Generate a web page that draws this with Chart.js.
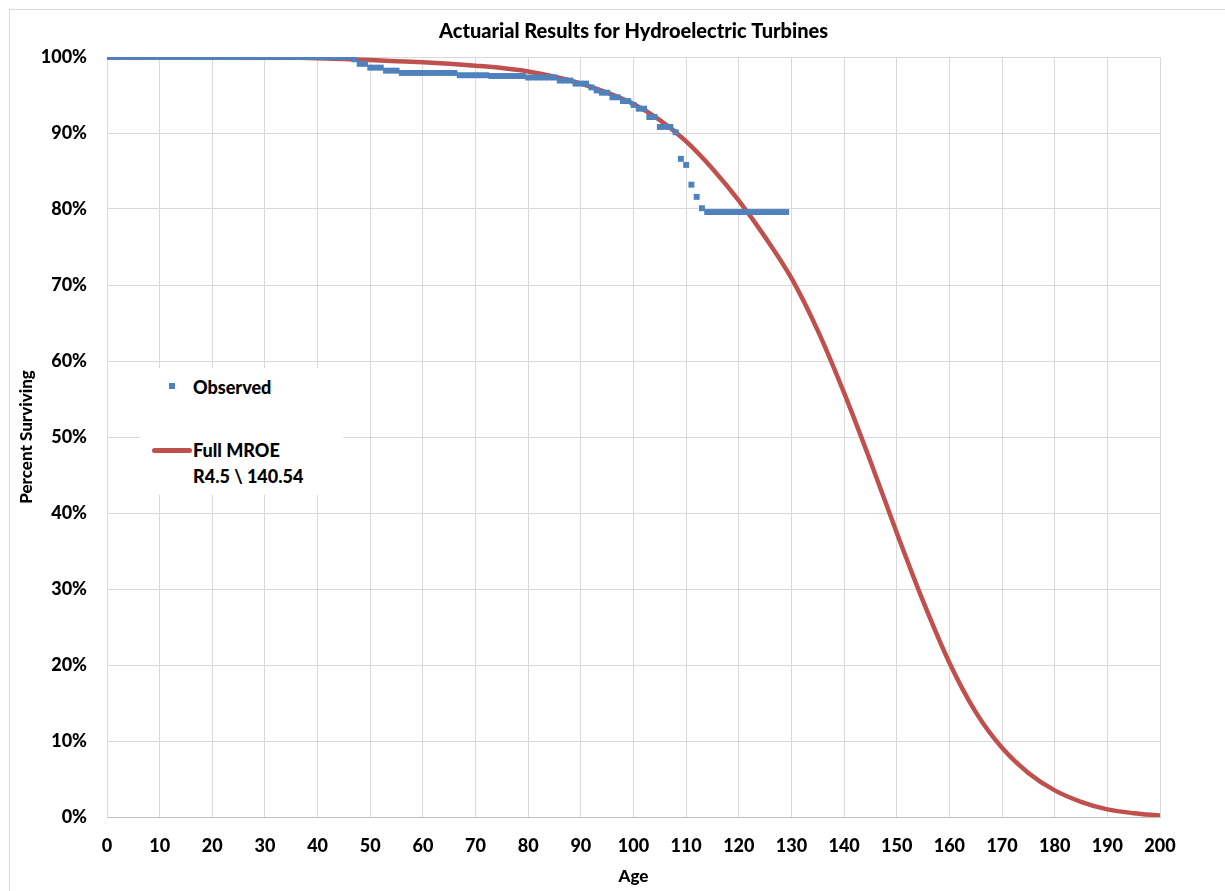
<!DOCTYPE html>
<html>
<head>
<meta charset="utf-8">
<title>Actuarial Results for Hydroelectric Turbines</title>
<script src="https://cdn.jsdelivr.net/npm/chart.js@4/dist/chart.umd.min.js"></script>
<style>
	body { margin: 0; background: #fff; overflow: hidden; }
	#wrap { position: relative; width: 1225px; height: 891px; }
	#legendBox {
		position: absolute; left: 140px; top: 368px; width: 203px; height: 127px;
		background: #fff; font-family: Lato, "Open Sans", sans-serif; font-weight: 900;
		font-size: 18px; color: #000;
	}
	#legendBox .item { position: absolute; left: 53px; line-height: 26px; white-space: nowrap; }
	#legendBox .marker { position: absolute; left: 29px; top: 15px; width: 6px; height: 6px; }
	#legendBox .swatch { position: absolute; left: 12px; top: 80px; width: 40px; height: 5px; border-radius: 3px; }
</style>
</head>
<body>
<div id="wrap">
	<canvas id="survivalChart" width="1225" height="891"></canvas>
	<div id="legendBox">
		<div class="marker" id="obsMarker"></div>
		<div class="item" style="top:6px">Observed</div>
		<div class="swatch" id="curveSwatch"></div>
		<div class="item" style="top:69px">Full MROE<br>R4.5 \ 140.54</div>
	</div>
</div>
<script>
// observed survivors, one reading per year of age
const obsAges = [
	0, 1, 2, 3, 4, 5, 6, 7, 8, 9, 10, 11, 12, 13, 14, 15, 16, 17, 18, 19,
	20, 21, 22, 23, 24, 25, 26, 27, 28, 29, 30, 31, 32, 33, 34, 35, 36, 37, 38, 39,
	40, 41, 42, 43, 44, 45, 46, 47, 48, 49, 50, 51, 52, 53, 54, 55, 56, 57, 58, 59,
	60, 61, 62, 63, 64, 65, 66, 67, 68, 69, 70, 71, 72, 73, 74, 75, 76, 77, 78, 79,
	80, 81, 82, 83, 84, 85, 86, 87, 88, 89, 90, 91, 92, 93, 94, 95, 96, 97, 98, 99,
	100, 101, 102, 103, 104, 105, 106, 107, 108, 109, 110, 111, 112, 113, 114, 115, 116, 117, 118, 119,
	120, 121, 122, 123, 124, 125, 126, 127, 128, 129
];
const obsSurviving = [
	100, 100, 100, 100, 100, 100, 100, 100, 100, 100, 100, 100, 100, 100, 100, 100, 100, 100, 100, 100,
	100, 100, 100, 100, 100, 100, 100, 100, 100, 100, 100, 100, 100, 100, 100, 100, 100, 100, 100, 100,
	100, 100, 100, 100, 100, 100, 100, 99.7, 99.1, 99.1, 98.6, 98.6, 98.6, 98.2, 98.2, 98.2, 97.9, 97.9, 97.9, 97.9,
	97.9, 97.9, 97.9, 97.9, 97.9, 97.9, 97.9, 97.6, 97.6, 97.6, 97.6, 97.6, 97.6, 97.5, 97.5, 97.5, 97.5, 97.5, 97.5, 97.5,
	97.3, 97.3, 97.3, 97.3, 97.3, 97.3, 96.9, 96.9, 96.9, 96.5, 96.5, 96.5, 96.0, 95.6, 95.3, 95.3, 94.7, 94.7, 94.2, 94.2,
	93.7, 93.2, 93.2, 92.1, 92.1, 90.8, 90.8, 90.8, 90.1, 86.6, 85.8, 83.2, 81.6, 80.1, 79.6, 79.6, 79.6, 79.6, 79.6, 79.6,
	79.6, 79.6, 79.6, 79.6, 79.6, 79.6, 79.6, 79.6, 79.6, 79.6
];

// fitted Iowa R4.5 curve, 140.54 average life
const curveAges = [
	0, 5, 10, 15, 20, 25, 30, 35, 40, 45, 50, 55, 60, 65, 70, 75, 80, 85, 90, 95, 100,
	105, 110, 115, 120, 125, 130, 135, 140, 145, 150, 155, 160, 165, 170, 175, 180, 185, 190, 195, 200
];
const curveSurviving = [
	100, 100, 100, 100, 100, 99.98, 99.95, 99.9, 99.85, 99.75, 99.6, 99.45, 99.3, 99.1, 98.85, 98.55, 98.1, 97.4, 96.5, 95.3, 93.8,
	91.7, 88.9, 85.3, 81.1, 76.3, 70.9, 64.0, 55.8, 46.8, 37.4, 28.4, 20.3, 13.8, 9.1, 5.8, 3.5, 2.0, 1.0, 0.5, 0.2
];

const BLUE = '#4F81BD';
const RED = '#C0504D';
const GRID = '#d9d9d9';
const FONT = 'Lato, "Open Sans", sans-serif';

document.getElementById('obsMarker').style.background = BLUE;
document.getElementById('curveSwatch').style.background = RED;

// light frame round the whole chart, like the spreadsheet chart border
const framePlugin = {
	id: 'frame',
	beforeDraw(chart) {
		const ctx = chart.ctx;
		ctx.save();
		ctx.strokeStyle = GRID;
		ctx.lineWidth = 1;
		ctx.strokeRect(9.5, 9.5, 1400, 1000);
		ctx.restore();
	}
};

function toPoints(xs, ys) {
	return xs.map((x, i) => ({ x: x, y: ys[i] }));
}

function createSurvivalChart() {
	const ctx = document.getElementById('survivalChart').getContext('2d');
	new Chart(ctx, {
		type: 'scatter',
		data: {
			datasets: [
				{
					label: 'Observed',
					data: toPoints(obsAges, obsSurviving),
					showLine: false,
					pointStyle: 'rect',
					pointRadius: 4.2,
					pointBorderWidth: 0,
					backgroundColor: BLUE,
					borderColor: BLUE
				},
				{
					label: 'Full MROE R4.5 \\ 140.54',
					data: toPoints(curveAges, curveSurviving),
					showLine: true,
					pointRadius: 0,
					borderColor: RED,
					backgroundColor: RED,
					borderWidth: 4.5,
					borderCapStyle: 'round',
					cubicInterpolationMode: 'monotone'
				}
			]
		},
		options: {
			responsive: false,
			animation: false,
			layout: { padding: { left: 0, right: 65, top: 0, bottom: 0 } },
			plugins: {
				legend: { display: false },
				tooltip: { enabled: false },
				title: {
					display: true,
					text: 'Actuarial Results for Hydroelectric Turbines',
					fullSize: false,
					color: '#000',
					font: { family: FONT, size: 20, weight: 900 },
					padding: { top: 20, bottom: 13 }
				}
			},
			scales: {
				x: {
					type: 'linear',
					min: 0,
					max: 200,
					afterFit: scale => { scale.height = 74; },
					ticks: {
						stepSize: 10,
						padding: 18,
						color: '#000',
						font: { family: FONT, size: 18, weight: 900 }
					},
					grid: { color: GRID, drawTicks: false },
					border: { color: '#bfbfbf' },
					title: {
						display: true,
						text: 'Age',
						color: '#000',
						font: { family: FONT, size: 17, weight: 900 },
						padding: { top: 0, bottom: 4 }
					}
				},
				y: {
					min: 0,
					max: 100,
					afterFit: scale => { scale.width = 107; },
					ticks: {
						stepSize: 10,
						padding: 20,
						color: '#000',
						font: { family: FONT, size: 18, weight: 900 },
						callback: value => value + '%'
					},
					grid: { color: GRID, drawTicks: false },
					border: { color: GRID },
					title: {
						display: true,
						text: 'Percent Surviving',
						color: '#000',
						font: { family: FONT, size: 17, weight: 900 },
						padding: { top: 16, bottom: 0 }
					}
				}
			}
		},
		plugins: [framePlugin]
	});
}

createSurvivalChart();
</script>
</body>
</html>
